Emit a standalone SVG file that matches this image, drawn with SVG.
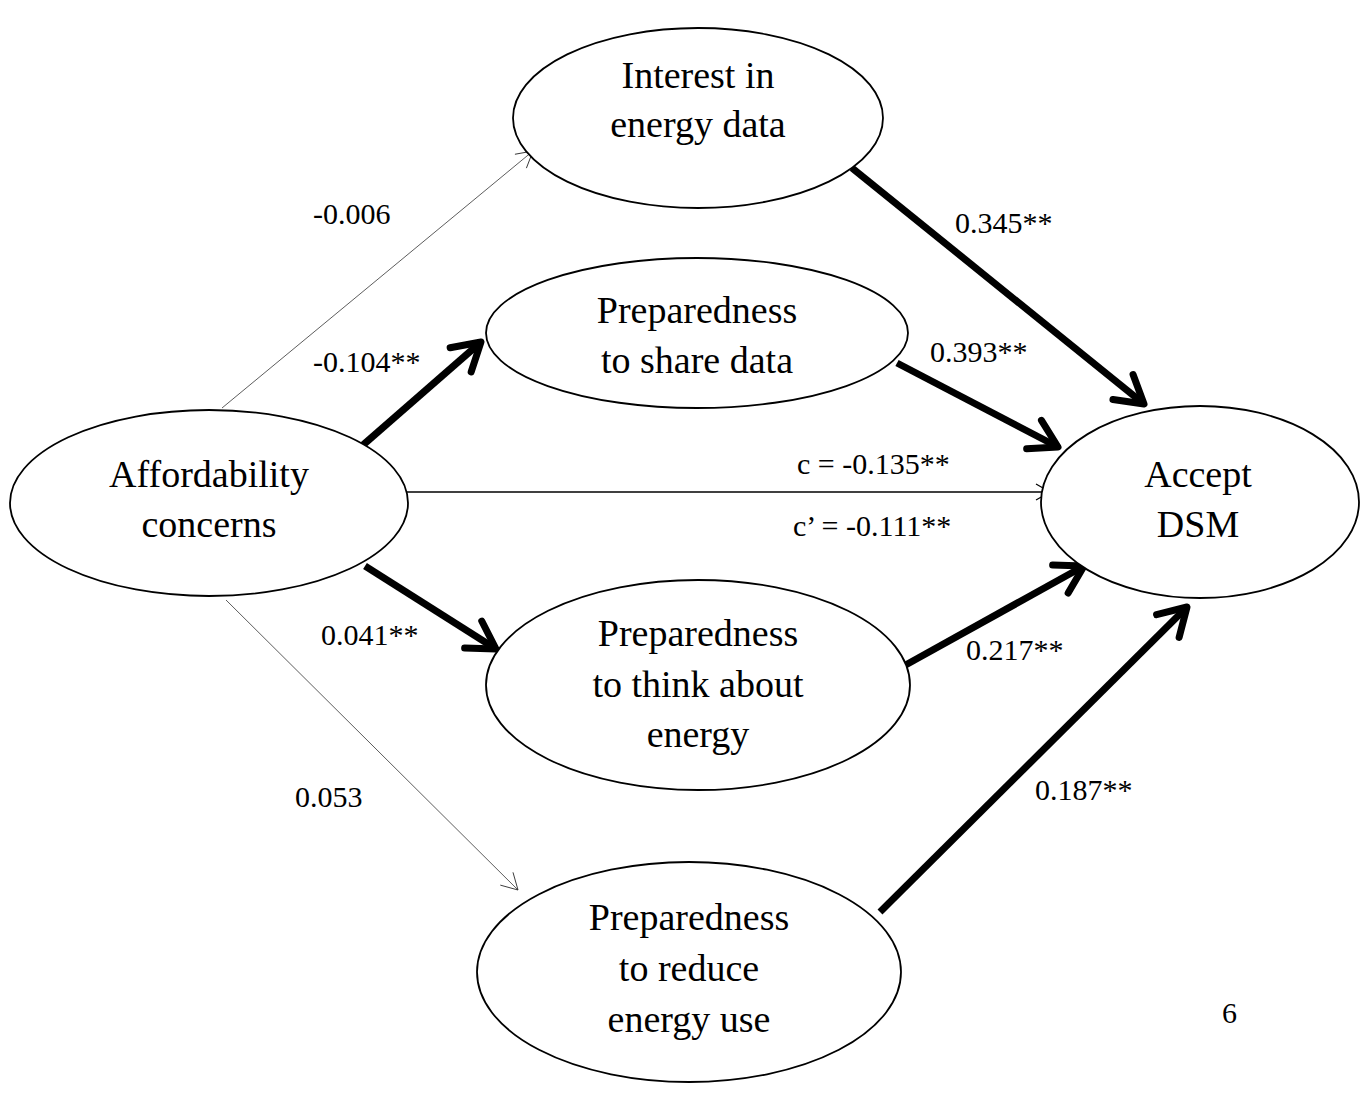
<svg xmlns="http://www.w3.org/2000/svg" width="1365" height="1096" viewBox="0 0 1365 1096">
<style>
.node ellipse{fill:#fff;stroke:#000;stroke-width:1.8}
.nt{font-family:"Liberation Serif","Times New Roman",serif;font-size:38px;fill:#000;text-anchor:middle}
.lb{font-family:"Liberation Serif","Times New Roman",serif;font-size:30px;fill:#000}
.thick{stroke:#000;stroke-width:7;fill:none;marker-end:url(#ahT)}
.thin{stroke:#333;stroke-width:0.8;fill:none;marker-end:url(#ahS)}
.mid{stroke:#000;stroke-width:1.4;fill:none;marker-end:url(#ahM)}
</style>
<defs>
<marker id="ahT" markerUnits="userSpaceOnUse" orient="auto" refX="0" refY="0" markerWidth="10" markerHeight="10" style="overflow:visible">
<path d="M-27,-16 L0,0 L-27,16" fill="none" stroke="#000" stroke-width="7" stroke-linecap="round" stroke-linejoin="round"/>
</marker>
<marker id="ahS" markerUnits="userSpaceOnUse" orient="auto" refX="0" refY="0" markerWidth="10" markerHeight="10" style="overflow:visible">
<path d="M-16,-9 L0,0 L-16,9" fill="none" stroke="#333" stroke-width="0.9"/>
</marker>
<marker id="ahM" markerUnits="userSpaceOnUse" orient="auto" refX="0" refY="0" markerWidth="10" markerHeight="10" style="overflow:visible">
<path d="M-14,-8 L0,0 L-14,8" fill="none" stroke="#000" stroke-width="1.2"/>
</marker>
</defs>
<rect width="1365" height="1096" fill="#fff"/>
<g id="connectors">
<line class="thin" x1="222" y1="408" x2="533" y2="151"/>
<line class="thick" x1="363" y1="445" x2="481" y2="342"/>
<line class="mid" x1="404" y1="492" x2="1050" y2="492"/>
<line class="thick" x1="365" y1="566" x2="496" y2="649"/>
<line class="thin" x1="226" y1="600" x2="518" y2="890"/>
<line class="thick" x1="852" y1="168" x2="1144" y2="404"/>
<line class="thick" x1="897" y1="363" x2="1058" y2="447"/>
<line class="thick" x1="902" y1="667" x2="1084" y2="566"/>
<line class="thick" x1="880" y1="912" x2="1187" y2="607"/>
</g>
<g id="n-interest" class="node">
<ellipse cx="698" cy="118" rx="185" ry="90"/>
<text class="nt" x="698" y="88">Interest in</text>
<text class="nt" x="698" y="137">energy data</text>
</g>
<g id="n-share" class="node">
<ellipse cx="697" cy="333" rx="211" ry="75"/>
<text class="nt" x="697" y="323">Preparedness</text>
<text class="nt" x="697" y="373">to share data</text>
</g>
<g id="n-afford" class="node">
<ellipse cx="209" cy="503" rx="199" ry="93"/>
<text class="nt" x="209" y="487">Affordability</text>
<text class="nt" x="209" y="537">concerns</text>
</g>
<g id="n-accept" class="node">
<ellipse cx="1200" cy="502" rx="159" ry="96"/>
<text class="nt" x="1198" y="487">Accept</text>
<text class="nt" x="1198" y="537">DSM</text>
</g>
<g id="n-think" class="node">
<ellipse cx="698" cy="685" rx="212" ry="105"/>
<text class="nt" x="698" y="646">Preparedness</text>
<text class="nt" x="698" y="697">to think about</text>
<text class="nt" x="698" y="747">energy</text>
</g>
<g id="n-reduce" class="node">
<ellipse cx="689" cy="972" rx="212" ry="110"/>
<text class="nt" x="689" y="930">Preparedness</text>
<text class="nt" x="689" y="981">to reduce</text>
<text class="nt" x="689" y="1032">energy use</text>
</g>
<g id="labels">
<text class="lb" x="313" y="224">-0.006</text>
<text class="lb" x="313" y="372">-0.104**</text>
<text class="lb" x="955" y="233">0.345**</text>
<text class="lb" x="930" y="362">0.393**</text>
<text class="lb" x="797" y="474">c = -0.135**</text>
<text class="lb" x="793" y="536">c’ = -0.111**</text>
<text class="lb" x="321" y="645">0.041**</text>
<text class="lb" x="966" y="660">0.217**</text>
<text class="lb" x="295" y="807">0.053</text>
<text class="lb" x="1035" y="800">0.187**</text>
<text class="lb" x="1222" y="1023">6</text>
</g>
</svg>
